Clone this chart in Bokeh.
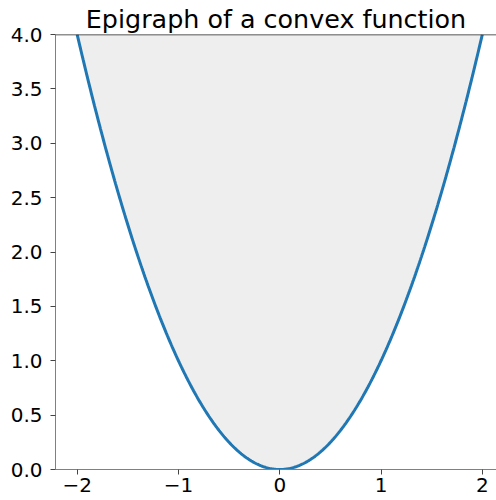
import numpy as np
from bokeh.plotting import figure
from bokeh.models import FixedTicker, Span, Range1d
from bokeh.embed import file_html
from bokeh.resources import INLINE

# data
x_ticks = [-2, -1, 0, 1, 2]
x_tick_labels = ["\u22122", "\u22121", "0", "1", "2"]
y_ticks = [0.0, 0.5, 1.0, 1.5, 2.0, 2.5, 3.0, 3.5, 4.0]
y_tick_labels = ["0.0", "0.5", "1.0", "1.5", "2.0", "2.5", "3.0", "3.5", "4.0"]
x_min, x_max = -2.0, 2.0
upper_level = 4.0
xs = np.linspace(x_min, x_max, 401)
ys = xs ** 2  # the convex function f(x) = x^2

p = figure(
    output_backend="svg", toolbar_location=None,
    frame_width=441, frame_height=435,
    min_border_left=55, min_border_right=0, min_border_top=0, min_border_bottom=31,
    x_range=Range1d(-2.214, 2.14), y_range=Range1d(0, 4),
    title="Epigraph of a convex function",
)
p.outline_line_color = None
p.grid.visible = False
p.background_fill_color = "white"
p.border_fill_color = "white"

p.title.text_font = "DejaVu Sans"
p.title.text_font_size = "25.4px"
p.title.text_font_style = "normal"
p.title.align = "center"
p.title.text_color = "black"
p.title.standoff = 2

p.varea(x=xs, y1=ys, y2=upper_level, fill_color="#eeeeee")
p.line(xs, ys, line_color="#1f77b4", line_width=3)

p.add_layout(Span(location=upper_level, dimension="width", line_color="#222222", line_width=1.3))

for ax in (p.xaxis[0], p.yaxis[0]):
    ax.axis_line_color = "#808080"
    ax.major_tick_line_color = "#444444"
    ax.major_tick_out = 5
    ax.major_tick_in = 0
    ax.minor_tick_line_color = None
    ax.major_label_text_font = "DejaVu Sans"
    ax.major_label_text_font_size = "20px"
    ax.major_label_text_color = "black"

p.xaxis.ticker = FixedTicker(ticks=x_ticks)
p.xaxis.major_label_overrides = {t: l for t, l in zip(x_ticks, x_tick_labels)}
p.yaxis.ticker = FixedTicker(ticks=y_ticks)
p.yaxis.major_label_overrides = {t: l for t, l in zip(y_ticks, y_tick_labels)}
p.xaxis.major_label_standoff = 3
p.yaxis.major_label_standoff = 8

open("out.html", "w").write(file_html(p, INLINE))
